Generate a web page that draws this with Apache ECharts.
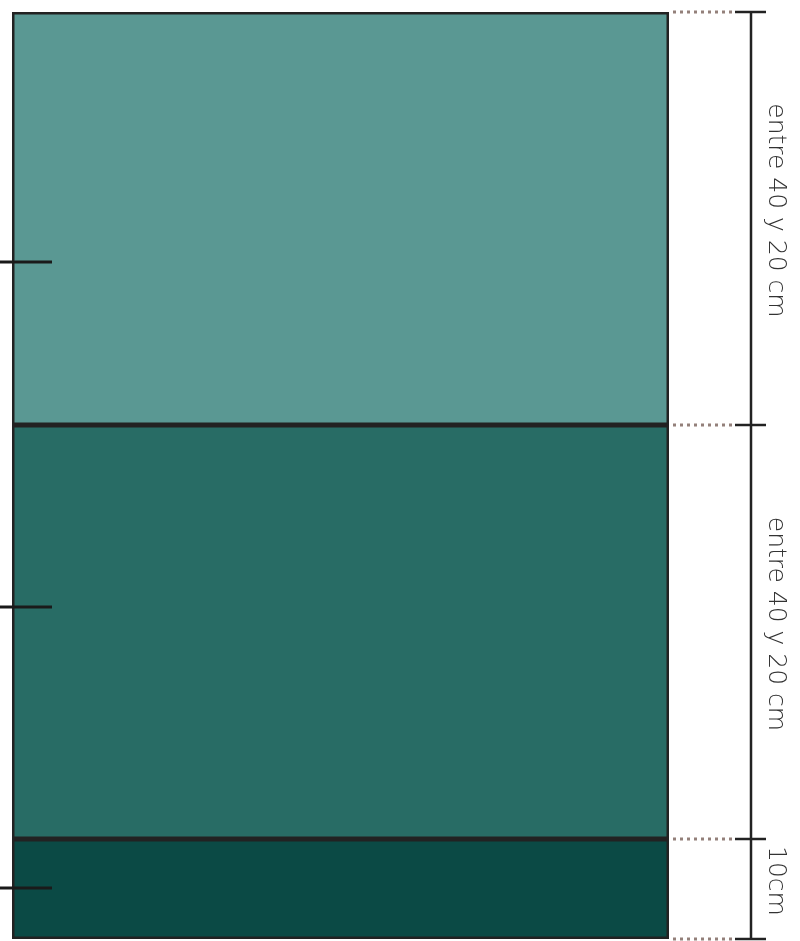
<!DOCTYPE html>
<html><head><meta charset="utf-8">
<script src="https://cdn.jsdelivr.net/npm/echarts@6/dist/echarts.min.js"></script>
<style>html,body{margin:0;padding:0;background:#fff}#c{width:800px;height:941px}</style>
</head><body><div id="c"></div>
<script>
// Data (bottom layer first)
const categories = ['perfil'];
const layerNames = ['10cm', 'entre 40 y 20 cm', 'entre 40 y 20 cm'];
const layerValues = [10, 41.4, 41.3];
const markerValues = [5.1, 33.2, 67.7];

// Styles
const layerColors = ['#0b4a45', '#286c65', '#5a9893'];
const ink = '#222222';

const bounds = [0];
layerValues.forEach(v => bounds.push(bounds[bounds.length - 1] + v));
const total = bounds[bounds.length - 1];

const chart = echarts.init(document.getElementById('c'), null, {renderer: 'canvas'});
chart.setOption({
  animation: false,
  backgroundColor: '#ffffff',
  grid: {left: 12, right: 131, top: 12, bottom: 2},
  xAxis: {type: 'category', data: categories, show: false},
  yAxis: {type: 'value', min: 0, max: total, show: false},
  series: [
    ...layerValues.map((v, i) => ({
      type: 'bar', stack: 'perfil', name: layerNames[i], data: [v],
      barWidth: '100%', silent: true,
      itemStyle: {color: layerColors[i], borderColor: ink, borderWidth: 2.5}
    })),
    {
      type: 'custom', z: 5, silent: true,
      data: bounds.map(b => [0, b]),
      renderItem: (p, api) => {
        const cs = p.coordSys;
        const y = api.coord([0, api.value(1)])[1];
        const xr = cs.x + cs.width;
        return {type: 'group', children: [
          {type: 'line', shape: {x1: xr + 4, y1: y, x2: xr + 66, y2: y},
           style: {stroke: '#93807a', lineWidth: 3, lineDash: [3, 4]}},
          {type: 'line', shape: {x1: xr + 66, y1: y, x2: xr + 97, y2: y},
           style: {stroke: ink, lineWidth: 2.5}}
        ]};
      }
    },
    {
      type: 'custom', z: 5, silent: true,
      data: layerValues.map((v, i) => [0, bounds[i], bounds[i + 1], layerNames[i]]),
      renderItem: (p, api) => {
        const cs = p.coordSys;
        const y0 = api.coord([0, api.value(1)])[1];
        const y1 = api.coord([0, api.value(2)])[1];
        const xr = cs.x + cs.width;
        const mid = (y0 + y1) / 2 - 8;
        return {type: 'group', children: [
          {type: 'line', shape: {x1: xr + 82, y1: y0, x2: xr + 82, y2: y1},
           style: {stroke: ink, lineWidth: 2.5}},
          {type: 'text', x: xr + 106, y: mid, rotation: -Math.PI / 2,
           style: {text: layerNames[p.dataIndex], fill: '#333333',
                   font: '200 25px "DejaVu Sans", "Open Sans", sans-serif',
                   align: 'center', verticalAlign: 'middle'}}
        ]};
      }
    },
    {
      type: 'custom', z: 6, silent: true,
      data: markerValues.map(m => [0, m]),
      renderItem: (p, api) => {
        const cs = p.coordSys;
        const y = api.coord([0, api.value(1)])[1];
        return {type: 'line', shape: {x1: cs.x - 14, y1: y, x2: cs.x + 40, y2: y},
                style: {stroke: '#1a1a1a', lineWidth: 3}};
      }
    }
  ]
});
</script></body></html>
